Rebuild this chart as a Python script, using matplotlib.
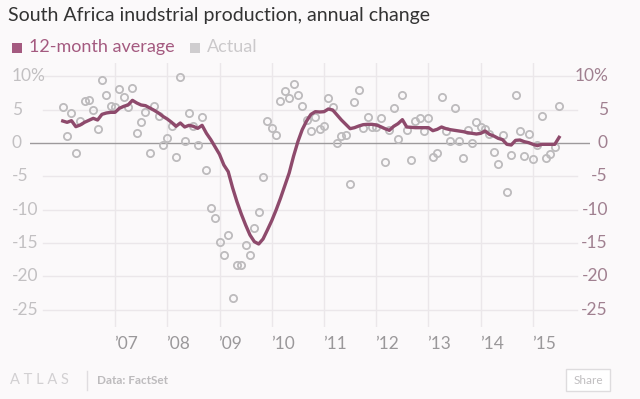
import matplotlib
matplotlib.use("Agg")
import matplotlib.pyplot as plt
import matplotlib.transforms as mtransforms
from matplotlib.patches import Rectangle
import pandas as pd

# ---------------- data ----------------
start_month = "2006-01"
actual = [5.4, 1.0, 4.5, -1.5, 3.3, 6.3, 6.4, 5.0, 2.1, 9.5, 7.2, 5.5,
          5.4, 8.1, 6.9, 5.4, 8.2, 1.5, 3.1, 4.7, -1.5, 5.5, 4.0, -0.3,
          0.8, 2.5, -2.15, 9.95, 0.25, 4.55, 2.55, -0.25, 3.95, -4.05, -9.7, -11.2,
          -14.85, -16.75, -13.75, -23.2, -18.35, -18.35, -15.35, -16.85, -12.7, -10.3, -5.1, 3.35,
          2.2, 1.2, 6.35, 7.85, 6.8, 8.85, 7.2, 5.5, 3.5, 1.8, 3.85, 2.1,
          2.6, 6.7, 5.35, -0.05, 1.0, 1.25, -6.1, 6.1, 8.0, 2.3, 3.9, 2.45,
          2.45, 3.8, -2.85, 1.95, 5.2, 0.65, 7.25, 2.0, -2.5, 3.35, 3.75, 1.75,
          3.7, -2.05, -1.45, 6.9, 1.75, 0.25, 5.25, 0.35, -2.25, 2.0, -0.05, 3.1,
          2.45, 2.1, 1.3, -1.35, -3.15, 1.15, -7.35, -1.75, 7.25, 1.8, -2.0, 1.4,
          -2.45, -0.3, 4.05, -2.3, -1.7, -0.55, 5.6]
avg12 = [3.3, 3.1, 3.35, 2.45, 2.7, 3.1, 3.4, 3.7, 3.45, 4.3, 4.5, 4.6,
         4.6, 5.2, 5.5, 5.7, 6.4, 6.0, 5.7, 5.6, 5.25, 4.9, 4.5, 4.0,
         3.6, 3.1, 2.5, 3.0, 2.4, 2.65, 2.5, 2.2, 2.65, 1.45, 0.5, -0.6,
         -1.7, -3.3, -4.3, -6.7, -8.8, -10.65, -12.3, -13.8, -14.8, -15.15, -14.4, -13.05,
         -11.65, -10.05, -8.3, -6.4, -4.5, -2.0, 0.2, 2.0, 3.3, 4.3, 4.7, 4.65,
         4.7, 5.1, 4.95, 4.2, 3.45, 2.8, 2.15, 2.3, 2.55, 2.75, 2.8, 2.8,
         2.7, 2.45, 2.15, 1.9, 2.5, 2.9, 3.5, 2.4, 2.35, 2.3, 2.3, 2.3,
         2.3, 1.85, 2.05, 2.4, 2.15, 2.0, 1.9, 1.8, 1.7, 1.55, 1.45, 1.35,
         1.45, 1.8, 1.3, 1.05, 0.7, 0.5, -0.2, -0.3, 0.4, 0.45, 0.2, 0.05,
         -0.2, -0.4, -0.2, -0.2, -0.2, -0.2, 0.85]
year_ticks = [2007, 2008, 2009, 2010, 2011, 2012, 2013, 2014, 2015]
year_labels = ["\u201907", "\u201908", "\u201909", "\u201910", "\u201911",
               "\u201912", "\u201913", "\u201914", "\u201915"]
y_ticks = [10, 5, 0, -5, -10, -15, -20, -25]
y_labels = ["10%", "5", "0", "-5", "-10", "-15", "-20", "-25"]

dates = pd.date_range(start_month, periods=len(actual), freq="MS")
t = dates.year + (dates.month - 1) / 12.0

# ---------------- style ----------------
BG = "#fbf9fa"
LINE = "#8e4a6c"
LEG = "#a45a80"
DOT = "#bdbbbd"
GRID = "#ebe7ea"
plt.rcParams["font.family"] = ["Lato", "DejaVu Sans"]

W, H = 640, 399
fig = plt.figure(figsize=(W / 100, H / 100), dpi=100, facecolor=BG)

def fx(px):
    return px / W

def fy(py):
    return 1 - py / H

ax_l, ax_r, ax_t, ax_b = 30, 590, 63, 327
ax = fig.add_axes([fx(ax_l), fy(ax_b), fx(ax_r - ax_l), (ax_b - ax_t) / H])
ax.set_facecolor(BG)
ax.set_xlim(2005.373, 2016.091)
ax.set_ylim(-27.6, 12)
for s in ax.spines.values():
    s.set_visible(False)
ax.set_xticks([])
ax.set_yticks([])

# grid
g0 = (43 - ax_l) / (ax_r - ax_l)
g1 = (577 - ax_l) / (ax_r - ax_l)
for v in y_ticks:
    if v == 0:
        ax.axhline(0, 0, 1, color="#9d9a9c", lw=1.0, zorder=2)
    else:
        ax.axhline(v, g0, g1, color=GRID, lw=1.0, zorder=1)
for yr in year_ticks:
    ax.axvline(yr, color=GRID, lw=1.0, zorder=1)

# data
ax.plot(t, actual, linestyle="none", marker="o", ms=5.2, mfc="none",
        mec=DOT, mew=1.3, zorder=3)
ax.plot(t, avg12, color=LINE, lw=2.4, zorder=4, solid_joinstyle="round")

# tick labels
trans_y_l = mtransforms.blended_transform_factory(fig.transFigure, ax.transData)
for v, lab in zip(y_ticks, y_labels):
    ax.text(fx(12), v, lab, transform=trans_y_l, ha="left", va="center",
            fontsize=12.5, color="#c2c0c2")
    ax.text(fx(608), v, lab, transform=trans_y_l, ha="right", va="center",
            fontsize=12.5, color="#a08090")
trans_x = mtransforms.blended_transform_factory(ax.transData, fig.transFigure)
for yr, lab in zip(year_ticks, year_labels):
    ax.text(yr - 0.02, fy(344), lab, transform=trans_x, ha="left", va="center",
            fontsize=12.5, color="#9a989a")

# title and legend
fig.text(fx(8), fy(16), "South Africa inudstrial production, annual change",
         ha="left", va="center", fontsize=14, color="#333333")
fig.patches.append(Rectangle((fx(12), fy(53)), fx(10), 10 / H, transform=fig.transFigure,
                             facecolor=LEG, edgecolor="none"))
fig.text(fx(29), fy(47), "12-month average", ha="left", va="center",
         fontsize=13, color=LEG)
fig.patches.append(Rectangle((fx(190), fy(53)), fx(10), 10 / H, transform=fig.transFigure,
                             facecolor="#cfcdcf", edgecolor="none"))
fig.text(fx(207), fy(47), "Actual", ha="left", va="center",
         fontsize=13, color="#cbc9cb")

# footer
fig.text(fx(10), fy(380), "A T L A S", ha="left", va="center",
         fontsize=10.5, color="#d2d0d2")
fig.lines.append(plt.Line2D([fx(87), fx(87)], [fy(371), fy(390)],
                            transform=fig.transFigure, color="#e0dde0", lw=1))
fig.text(fx(97), fy(380), "Data: FactSet", ha="left", va="center",
         fontsize=8.5, color="#bdbbbd", fontweight="bold")
fig.patches.append(Rectangle((fx(566), fy(391)), fx(44), 22 / H, transform=fig.transFigure,
                             facecolor="#ffffff", edgecolor="#dedcde", lw=1))
fig.text(fx(588), fy(380), "Share", ha="center", va="center",
         fontsize=8.5, color="#c0bec0")

fig.savefig("out.png", dpi=100, facecolor=BG)
